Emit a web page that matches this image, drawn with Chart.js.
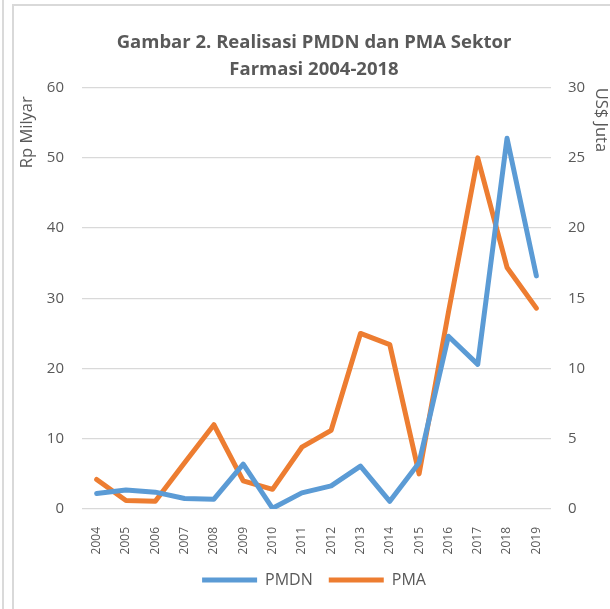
<!DOCTYPE html>
<html><head><meta charset="utf-8">
<script src="https://cdn.jsdelivr.net/npm/chart.js@4"></script>
<style>
html,body{margin:0;padding:0;background:#fff;}
#wrap{position:relative;width:610px;height:609px;overflow:hidden;}
#c{position:absolute;left:0;top:0;}
.frameL{position:absolute;left:2px;top:0;width:2px;height:609px;background:#dadada;}
.frame{position:absolute;left:12px;top:4px;width:620px;height:640px;border:2px solid #d9d9d9;box-sizing:border-box;}
</style></head><body>
<div id="wrap"><div class="frameL"></div><div class="frame"></div><canvas id="c" width="610" height="609"></canvas></div>
<script>
const years = ['2004','2005','2006','2007','2008','2009','2010','2011','2012','2013','2014','2015','2016','2017','2018','2019'];
const pmdn = [2.2, 2.7, 2.4, 1.5, 1.4, 6.4, 0.1, 2.3, 3.3, 6.1, 1.1, 6.6, 24.6, 20.6, 52.8, 33.2];
const pma = [2.1, 0.6, 0.55, 3.3, 6.0, 2.0, 1.4, 4.4, 5.6, 12.5, 11.7, 2.5, 14.0, 25.0, 17.2, 14.3];
const leftTicksMax = 60, rightTicksMax = 30;

const FAM = "'Open Sans', 'Noto Sans', sans-serif";
const GREY = '#595959';

new Chart(document.getElementById('c'), {
  type: 'line',
  data: {
    labels: years,
    datasets: [
      {label:'PMDN', data:pmdn, yAxisID:'y', borderColor:'#5B9BD5', backgroundColor:'#5B9BD5',
       borderWidth:5, pointRadius:0, tension:0, borderCapStyle:'round', borderJoinStyle:'round'},
      {label:'PMA', data:pma, yAxisID:'y1', borderColor:'#ED7D31', backgroundColor:'#ED7D31',
       borderWidth:5, pointRadius:0, tension:0, borderCapStyle:'round', borderJoinStyle:'round'}
    ]
  },
  options: {
    responsive:false, animation:false,
    layout:{padding:{left:18, right:0, top:0, bottom:11}},
    plugins:{
      title:{display:true, text:['Gambar 2. Realisasi PMDN dan PMA Sektor','Farmasi 2004-2018'],
        color:GREY, font:{family:FAM, size:18.5, weight:'bold', lineHeight:1.45}, padding:{top:29,bottom:5}},
      legend:{position:'bottom', labels:{usePointStyle:true, pointStyle:'line', pointStyleWidth:55,
        color:GREY, font:{family:FAM, size:16}, padding:16}},
      tooltip:{enabled:false}
    },
    scales:{
      x:{offset:true, grid:{display:false}, border:{display:false},
        ticks:{color:GREY, font:{family:FAM, size:12}, minRotation:90, maxRotation:90, padding:10, autoSkip:false},
        afterFit(s){ s.height = 47; }},
      y:{position:'left', min:0, max:leftTicksMax,
        ticks:{stepSize:10, padding:18, color:GREY, font:{family:FAM, size:15}},
        grid:{color:'#D9D9D9', lineWidth:1.3, drawTicks:false}, border:{display:false},
        title:{display:true, text:'Rp Milyar  ', align:'end', color:GREY, font:{family:FAM, size:16.5}, padding:{top:-1, bottom:0}},
        afterFit(s){ s.width = 64; }},
      y1:{position:'right', min:0, max:rightTicksMax,
        ticks:{stepSize:5, padding:17, color:GREY, font:{family:FAM, size:15}},
        grid:{display:false, drawTicks:false}, border:{display:false},
        title:{display:true, text:'US$ Juta   ', align:'end', color:GREY, font:{family:FAM, size:16.5}, padding:{top:-1, bottom:0}},
        afterFit(s){ s.width = 59; }}
    }
  }
});
</script>
</body></html>
